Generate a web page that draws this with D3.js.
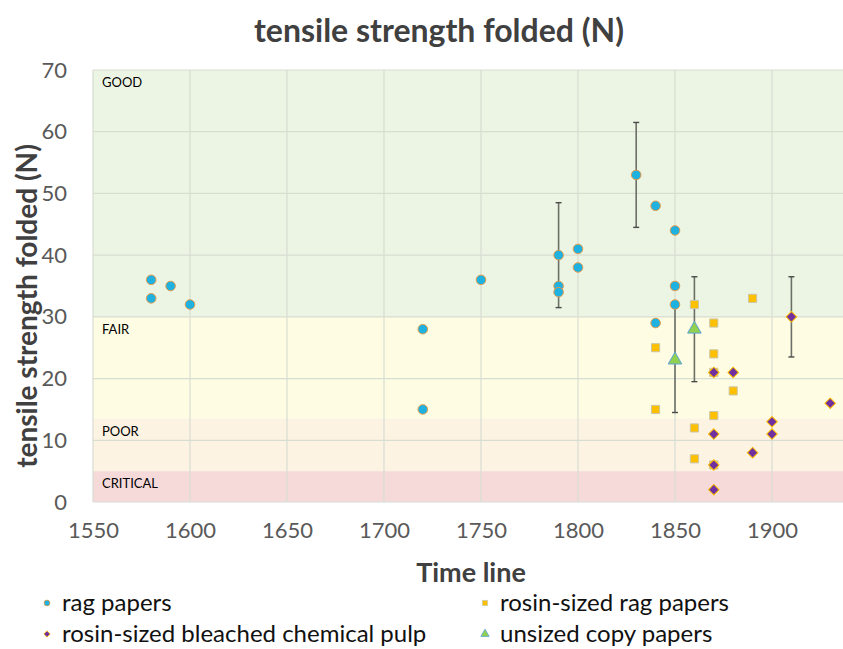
<!DOCTYPE html>
<html><head><meta charset="utf-8">
<script src="https://cdn.jsdelivr.net/npm/d3@7"></script>
<style>body{margin:0;background:#fff}svg{display:block}</style>
</head><body>
<svg id="c" width="843" height="649"></svg>
<script>
// ---- data ----
const ragYears   = [1580,1580,1590,1600,1720,1720,1750,1790,1790,1790,1800,1800,1830,1840,1840,1850,1850,1850];
const ragValues  = [36,33,35,32,28,15,36,40,35,34,41,38,53,48,29,44,35,32];
const ragErrors  = [0,0,0,0,0,0,0,8.5,0,0,0,0,8.5,0,0,0,0,0];

const rosinYears  = [1840,1840,1860,1860,1860,1870,1870,1870,1870,1870,1880,1890];
const rosinValues = [25,15,32,12,7,29,24,21,14,6,18,33];

const bleachYears  = [1870,1880,1870,1870,1870,1890,1900,1900,1910,1930];
const bleachValues = [21,21,11,6,2,8,13,11,30,16];
const bleachErrors = [0,0,0,0,0,0,0,0,6.5,0];

const copyYears  = [1850,1860];
const copyValues = [23,28];
const copyErrors = [8.5,8.5];

const bandNames  = ["GOOD","FAIR","POOR","CRITICAL"];
const bandLow    = [30,13.5,5,0];
const bandHigh   = [70,30,13.5,5];
const bandColors = ["#ecf5e3","#fefde3","#fcf3e3","#f6dada"];

const xTicks = [1550,1600,1650,1700,1750,1800,1850,1900];
const xGrid  = [1550,1600,1650,1700,1750,1800,1850,1900,1950];
const yTicks = [0,10,20,30,40,50,60,70];

const seriesNames = ["rag papers","rosin-sized rag papers","rosin-sized bleached chemical pulp","unsized copy papers"];

// ---- layout ----
const svg = d3.select("#c");
const x = d3.scaleLinear().domain([1550,1950]).range([93,869]);
const y = d3.scaleLinear().domain([0,70]).range([502,70]);
const font = "Lato, 'Open Sans', sans-serif";

svg.selectAll("rect.band").data(bandNames).enter().append("rect")
  .attr("x", x(1550)).attr("width", x(1950)-x(1550))
  .attr("y", (d,i)=>y(bandHigh[i])).attr("height",(d,i)=>y(bandLow[i])-y(bandHigh[i]))
  .attr("fill",(d,i)=>bandColors[i]);

const grid = svg.append("g");
grid.selectAll("line.h").data(yTicks).enter().append("line")
  .attr("x1", x(1550)).attr("x2", x(1950)).attr("y1", d=>y(d)).attr("y2", d=>y(d))
  .attr("stroke", "#d8ddd2").attr("stroke-width", 1.2);
grid.selectAll("line.v").data(xGrid).enter().append("line")
  .attr("y1", y(0)).attr("y2", y(70)).attr("x1", d=>x(d)).attr("x2", d=>x(d))
  .attr("stroke", "#d8ddd2").attr("stroke-width", 1.2);

svg.selectAll("text.band").data(bandNames).enter().append("text")
  .attr("x", x(1550)+9).attr("y",(d,i)=>y(bandHigh[i])+17)
  .attr("font-family", font).attr("font-size", 13).attr("fill","#000")
  .text(d=>d);

const xAxis = d3.axisBottom(x).tickValues(xTicks).tickSize(0).tickPadding(0).tickFormat(d3.format("d"));
const gx = svg.append("g").attr("transform",`translate(0,${y(0)})`).call(xAxis);
gx.select(".domain").remove();
gx.selectAll("text").attr("font-family",font).attr("font-size",22).attr("fill","#595959").attr("dy","1.65em");

const yAxis = d3.axisLeft(y).tickValues(yTicks).tickSize(0).tickPadding(26);
const gy = svg.append("g").attr("transform",`translate(${x(1550)},0)`).call(yAxis);
gy.select(".domain").remove();
gy.selectAll("text").attr("font-family",font).attr("font-size",22).attr("fill","#595959");

svg.append("text").attr("x",439).attr("y",42).attr("text-anchor","middle")
  .attr("font-family",font).attr("font-weight","bold").attr("font-size",32).attr("fill","#404040")
  .text("tensile strength folded (N)");
svg.append("text").attr("x",471).attr("y",582).attr("text-anchor","middle")
  .attr("font-family",font).attr("font-weight","bold").attr("font-size",27).attr("fill","#404040")
  .text("Time line");
svg.append("text").attr("transform","translate(37,306) rotate(-90)").attr("text-anchor","middle")
  .attr("font-family",font).attr("font-weight","bold").attr("font-size",28).attr("fill","#404040")
  .text("tensile strength folded (N)");

function errBars(years, vals, errs){
  const g = svg.append("g");
  years.forEach((yr,i)=>{
    if(!errs[i]) return;
    const cx = x(yr), t = y(vals[i]+errs[i]), b = y(vals[i]-errs[i]);
    g.append("line").attr("x1",cx).attr("x2",cx).attr("y1",t).attr("y2",b).attr("stroke","#6b6f66").attr("stroke-width",1.6);
    [t,b].forEach(v=>g.append("line").attr("x1",cx-3).attr("x2",cx+3).attr("y1",v).attr("y2",v).attr("stroke","#4a4a4a").attr("stroke-width",1.4));
  });
}
errBars(ragYears, ragValues, ragErrors);
errBars(copyYears, copyValues, copyErrors);
errBars(bleachYears, bleachValues, bleachErrors);

const sym = {
  circle: d3.symbol().type(d3.symbolCircle).size(72),
  square: d3.symbol().type(d3.symbolSquare).size(66),
  diamond: d3.symbol().type(d3.symbolSquare).size(56),
  triangle: d3.symbol().type(d3.symbolTriangle).size(80)
};
function marks(years, vals, path, fill, stroke, rot){
  svg.append("g").selectAll("path").data(years).enter().append("path")
    .attr("d", path)
    .attr("transform",(d,i)=>`translate(${x(d)},${y(vals[i])}) rotate(${rot||0})`)
    .attr("fill",fill).attr("stroke",stroke).attr("stroke-width",1);
}
marks(rosinYears, rosinValues, sym.square, "#ffc000", "#c9c6a8");
marks(ragYears, ragValues, sym.circle, "#1fb1df", "#e39b4b");
marks(bleachYears, bleachValues, sym.diamond, "#7030a0", "#ffc000", 45);
marks(copyYears, copyValues, sym.triangle, "#92d050", "#5ba3d9");

const legX = [47,485], legY = [603,634];
const legSym = [
  {p:d3.symbol().type(d3.symbolCircle).size(26), f:"#1fb1df", s:"#e39b4b", r:0},
  {p:d3.symbol().type(d3.symbolSquare).size(26), f:"#ffc000", s:"#c9c6a8", r:0},
  {p:d3.symbol().type(d3.symbolSquare).size(20), f:"#7030a0", s:"#ffc000", r:45},
  {p:d3.symbol().type(d3.symbolTriangle).size(30), f:"#92d050", s:"#5ba3d9", r:0}
];
seriesNames.forEach((n,i)=>{
  const lx = legX[i%2], ly = legY[Math.floor(i/2)];
  svg.append("path").attr("d",legSym[i].p).attr("transform",`translate(${lx},${ly}) rotate(${legSym[i].r})`)
    .attr("fill",legSym[i].f).attr("stroke",legSym[i].s).attr("stroke-width",0.8);
  svg.append("text").attr("x",lx+15).attr("y",ly+8).attr("font-family",font).attr("font-size",24).attr("fill","#111").text(n);
});
</script>
</body></html>
